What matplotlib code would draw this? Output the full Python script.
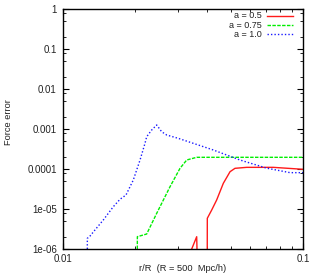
import numpy as np
import matplotlib.pyplot as plt
from matplotlib.ticker import FixedLocator, FixedFormatter, LogLocator, NullFormatter

plt.rcParams['font.family'] = ['Liberation Sans', 'DejaVu Sans']

# series values (r/R, force error)
r_a05 = [0.0335, 0.03606, 0.03627, 0.0399, 0.03993, 0.04165, 0.04368, 0.04656,
         0.04966, 0.05208, 0.05825, 0.07519, 0.1]
err_a05 = [6.8e-7, 2.03e-6, 5e-7, 5e-7, 5.86e-6, 9.44e-6, 1.68e-5, 4.39e-5,
           8.56e-5, 1.04e-4, 1.10e-4, 1.10e-4, 9.83e-5]

r_a075 = [0.02040, 0.02041, 0.02232, 0.02457, 0.02792, 0.03073, 0.03277, 0.03606, 0.1]
err_a075 = [1e-6, 2.03e-6, 2.37e-6, 7.8e-6, 3.61e-5, 1.04e-4, 1.68e-4, 1.96e-4, 1.96e-4]

r_a10 = [0.01263, 0.01263, 0.01296, 0.01359, 0.01472, 0.0162, 0.01728, 0.0183,
         0.01963, 0.02094, 0.02196, 0.02232, 0.02342, 0.02457, 0.02576, 0.02704,
         0.0302, 0.04228, 0.0546, 0.0706, 0.0883, 0.1]
err_a10 = [1e-6, 1.85e-6, 2.11e-6, 2.99e-6, 5.31e-6, 1.14e-5, 1.75e-5, 2.24e-5,
           5.31e-5, 1.68e-4, 4.39e-4, 6.42e-4, 9.44e-4, 1.26e-3, 8.56e-4, 7.08e-4,
           5.85e-4, 2.99e-4, 1.68e-4, 1.05e-4, 8.1e-5, 8.1e-5]

labels = ['a = 0.5', 'a = 0.75', 'a = 1.0']
colors = ['#ff1a1a', '#00ee00', '#1a1aff']
dashes = [None, [2.5, 1], [1, 1.5]]

yticks = [1e-6, 1e-5, 1e-4, 1e-3, 1e-2, 1e-1, 1]
ytick_labels = ['1e-06', '1e-05', '0.0001', '0.001', '0.01', '0.1', '1']
xticks = [0.01, 0.1]
xtick_labels = ['0.01', '0.1']

fig = plt.figure(figsize=(3.12, 2.77), dpi=100)
ax = fig.add_axes([63 / 312, 28 / 277, 240 / 312, 240 / 277])

series = [(r_a05, err_a05), (r_a075, err_a075), (r_a10, err_a10)]
for i, (xs, ys) in enumerate(series):
    ln, = ax.plot(xs, ys, color=colors[i], lw=1.0)
    if dashes[i]:
        ln.set_dashes(dashes[i])

ax.set_xscale('log')
ax.set_yscale('log')
ax.set_xlim(0.01, 0.1)
ax.set_ylim(1e-6, 1)

ax.xaxis.set_major_locator(FixedLocator(xticks))
ax.xaxis.set_major_formatter(FixedFormatter(xtick_labels))
ax.xaxis.set_minor_locator(LogLocator(base=10, subs=np.arange(2, 10)))
ax.xaxis.set_minor_formatter(NullFormatter())
ax.yaxis.set_major_locator(FixedLocator(yticks))
ax.yaxis.set_major_formatter(FixedFormatter(ytick_labels))
ax.yaxis.set_minor_locator(LogLocator(base=10, subs=[2, 5, 8]))
ax.yaxis.set_minor_formatter(NullFormatter())

ax.tick_params(which='both', direction='in', top=True, right=True, labelsize=7,
               labelcolor='#222222')
ax.tick_params(which='major', length=4, width=0.8)
ax.tick_params(which='minor', length=2, width=0.6)
ax.tick_params(axis='y', pad=4.5)
ax.tick_params(axis='x', pad=3.5)
for s in ax.spines.values():
    s.set_linewidth(1.0)

ax.set_xlabel('r/R  (R = 500  Mpc/h)', fontsize=6.7, labelpad=0, color='#222222')
fig.text(8.5 / 312, 1 - 122 / 277, 'Force error', rotation=90, fontsize=6.7,
         ha='center', va='center', color='#222222')

# gnuplot style key: right aligned text, sample line to the right
for i, lab in enumerate(labels):
    yk = 1 - (15.7 + 9.3 * i - 9) / 240
    ax.text((261.5 - 63) / 240, yk, lab, transform=ax.transAxes, fontsize=6.5,
            ha='right', va='center', color='#222222')
    k, = ax.plot([(266.7 - 63) / 240, (292.7 - 63) / 240], [yk, yk],
                 transform=ax.transAxes, color=colors[i], lw=1.0)
    if dashes[i]:
        k.set_dashes(dashes[i])

fig.savefig('out.png', dpi=100)
